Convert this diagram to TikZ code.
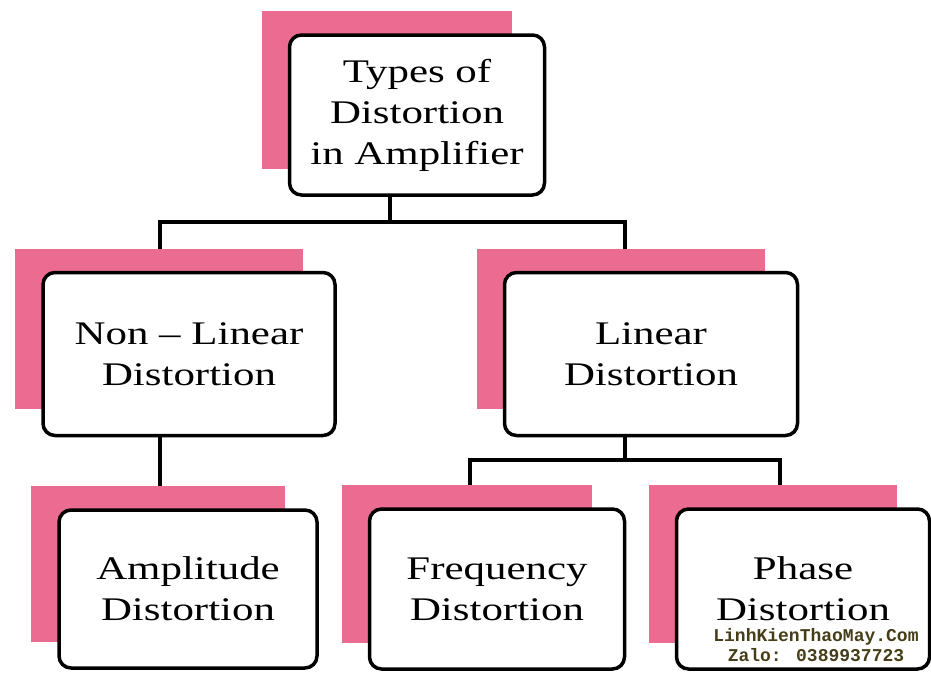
\documentclass[tikz,border=0pt]{standalone}
\usepackage{fontspec}
\setmainfont{Liberation Serif}[FakeStretch=1.3]
\newfontfamily\wmfont{Liberation Mono}
\usetikzlibrary{backgrounds}
\definecolor{shadowpink}{RGB}{236,108,145}
\definecolor{wmcolor}{RGB}{70,62,25}
\begin{document}
\begin{tikzpicture}[x=1pt,y=-1pt,
  box/.style={draw=black, line width=3.5pt, rounded corners=12pt, fill=white,
    align=center, inner sep=0pt, font=\fontsize{33}{41}\selectfont},
  link/.style={draw=black, line width=3.5pt},
  shade/.style={fill=shadowpink},
  wm/.style={align=center, text=wmcolor, font=\wmfont\bfseries\fontsize{18}{20}\selectfont, inner sep=1pt}]
\useasboundingbox (0,0) rectangle (931,675);

\node[box, minimum width=255pt, minimum height=160pt] (top) at (417,115) {Types of\\Distortion\\in Amplifier};
\node[box, minimum width=292pt, minimum height=163pt] (nonlin) at (189,354) {Non -- Linear\\Distortion};
\node[box, minimum width=293pt, minimum height=163pt] (lin) at (651,354) {Linear\\Distortion};
\node[box, minimum width=258pt, minimum height=158pt] (amp) at (188,589) {Amplitude\\Distortion};
\node[box, minimum width=255pt, minimum height=160pt] (freq) at (497,589) {Frequency\\Distortion};
\node[box, minimum width=253pt, minimum height=160pt] (phase) at (803,589) {Phase\\Distortion};

\coordinate (j1) at (390,222);
\coordinate (j2) at (625,460);

\begin{pgfonlayer}{background}
  \draw[link] ([xshift=-27pt]top.south) -- (j1);
  \draw[link] ([xshift=-29pt]nonlin.north) |- (j1) -| ([xshift=-26pt]lin.north);
  \draw[link] ([xshift=-29pt]nonlin.south) -- ([xshift=-28pt]amp.north);
  \draw[link] ([xshift=-26pt]lin.south) -- (j2);
  \draw[link] ([xshift=-27pt]freq.north) |- (j2) -| ([xshift=-23pt]phase.north);
  \foreach \n in {top,nonlin,lin,amp,freq,phase}{
    \fill[shade] ([shift={(-26,-22)}]\n.north west) rectangle ([shift={(-34,-28)}]\n.south east);
  }
\end{pgfonlayer}

\node[wm] (wmark) at (816,645) {LinhKienThaoMay.Com\\Zalo: 0389937723};
\end{tikzpicture}
\end{document}
